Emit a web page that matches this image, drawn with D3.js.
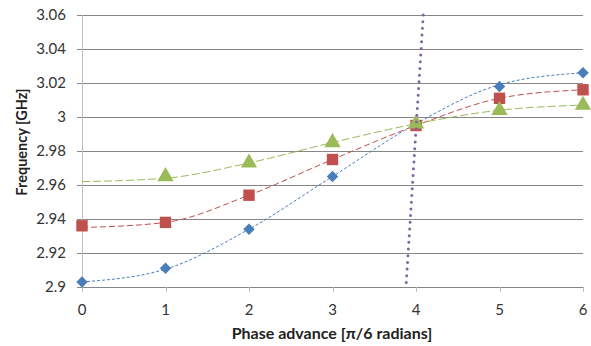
<!DOCTYPE html>
<html><head><meta charset="utf-8">
<script src="https://cdn.jsdelivr.net/npm/d3@7"></script>
<style>body{margin:0;background:#fff}svg{display:block}text{font-family:Lato,"Open Sans",sans-serif}</style>
</head><body><svg id="c" width="591" height="346"></svg>
<script>
const phases = [0,1,2,3,4,5,6];
const yTicks = [2.9,2.92,2.94,2.96,2.98,3,3.02,3.04,3.06];
const blueValues  = [2.903,2.911,2.934,2.965,2.996,3.018,3.026];
const redValues   = [2.936,2.938,2.954,2.975,2.995,3.011,3.016];
const greenPhases = [1,2,3,4,5,6];
const greenValues = [2.965,2.973,2.985,2.996,3.004,3.007];
const blueTrend  = [2.903,2.9105,2.934,2.965,2.996,3.019,3.026];
const redTrend   = [2.935,2.938,2.954,2.975,2.995,3.011,3.016];
const greenTrend = [2.962,2.964,2.973,2.985,2.996,3.004,3.007];
const lightLineX = [4.087,3.88];
const lightLineY = [3.06,2.9];

const svg = d3.select("#c");
const x = d3.scaleLinear().domain([0,6]).range([82,583]);
const y = d3.scaleLinear().domain([2.9,3.06]).range([287,15]);

svg.append("g").selectAll("line").data(yTicks).join("line")
  .attr("x1",77).attr("x2",583).attr("y1",d=>Math.round(y(d))+0.5).attr("y2",d=>Math.round(y(d))+0.5)
  .attr("stroke","#868686").attr("stroke-width",1);
svg.append("line").attr("x1",82.5).attr("x2",82.5).attr("y1",15).attr("y2",292)
  .attr("stroke","#bfbfbf");
svg.append("g").selectAll("line").data(phases.slice(1)).join("line")
  .attr("x1",d=>Math.round(x(d))+0.5).attr("x2",d=>Math.round(x(d))+0.5).attr("y1",287).attr("y2",292)
  .attr("stroke","#bfbfbf");
svg.append("g").selectAll("text").data(yTicks).join("text")
  .attr("x",66).attr("y",d=>y(d)).attr("dy","0.35em").attr("text-anchor","end")
  .attr("font-size",15).attr("fill","#333").text(d=>+d.toFixed(2));
svg.append("g").selectAll("text").data(phases).join("text")
  .attr("x",d=>x(d)).attr("y",310).attr("dy","0.35em").attr("text-anchor","middle")
  .attr("font-size",15).attr("fill","#333").text(d=>d);
svg.append("text").attr("transform","translate(22,142) rotate(-90)").attr("text-anchor","middle")
  .attr("dy","0.35em").attr("font-size",14.5).attr("font-weight","bold").attr("fill","#222").text("Frequency [GHz]");
svg.append("text").attr("x",332).attr("y",333).attr("text-anchor","middle").attr("dy","0.35em")
  .attr("font-size",16).attr("font-weight","bold").attr("fill","#222").text("Phase advance [π/6 radians]");

const diamond = {draw(ctx, size){const r=Math.sqrt(size/2);ctx.moveTo(0,-r);ctx.lineTo(r,0);ctx.lineTo(0,r);ctx.lineTo(-r,0);ctx.closePath();}};
const line = d3.line().x(d=>x(d[0])).y(d=>y(d[1])).curve(d3.curveMonotoneX);
const series = [
  {trend: blueTrend, vals: blueValues, px: phases, color:"#4a7ebb", dash:"3,2", sym:diamond, size:66},
  {trend: redTrend, vals: redValues, px: phases, color:"#c0504d", dash:"6,3", sym:d3.symbolSquare, size:130},
  {trend: greenTrend, vals: greenValues, px: greenPhases, color:"#9bbb59", dash:"8,3", sym:d3.symbolTriangle, size:115}
];
series.forEach(s=>{
  svg.append("path").datum(phases.map((p,i)=>[p,s.trend[i]])).attr("d",line)
    .attr("fill","none").attr("stroke",s.color).attr("stroke-width",1).attr("stroke-dasharray",s.dash);
});
series.forEach(s=>{
  svg.append("g").selectAll("path").data(s.px.map((p,i)=>[p,s.vals[i]])).join("path")
    .attr("transform",d=>`translate(${x(d[0])},${y(d[1])})`)
    .attr("d",d3.symbol().type(s.sym).size(s.size)).attr("fill",s.color);
});
svg.append("line").attr("x1",x(lightLineX[0])).attr("y1",y(lightLineY[0]))
  .attr("x2",x(lightLineX[1])).attr("y2",y(lightLineY[1]))
  .attr("stroke","#8064a2").attr("stroke-width",3).attr("stroke-linecap","round").attr("stroke-dasharray","0,6.7");
</script></body></html>
